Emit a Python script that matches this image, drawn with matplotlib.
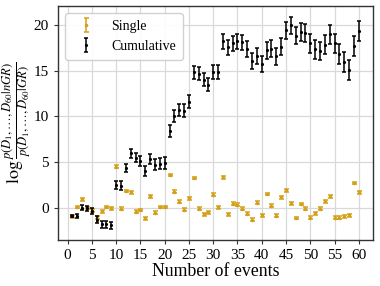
import numpy as np
import matplotlib
matplotlib.use("Agg")
import matplotlib.pyplot as plt

# number of events
n_events = list(range(1, 61))

# log Bayes factor of each single event
single = [-0.90, 0.10, 0.94, 0.00, -0.30, -1.05, -0.36, 0.10, -0.04, 4.50,
          -0.07, 1.85, 1.70, -0.43, -0.22, -1.12, 1.27, -0.54, 0.10, 0.10,
          3.60, 1.77, 0.69, -0.18, 1.05, 3.26, -0.07, -0.69, -0.50, 1.45,
          0.07, 3.33, -0.69, 0.47, 0.36, -0.10, -0.65, -1.27, 0.58, -0.80,
          1.52, 0.25, -0.83, 1.16, 1.92, 0.50, -1.09, 0.43, -0.10, -1.05,
          -0.58, -0.10, 0.72, 1.27, -1.05, -1.05, -0.90, -0.80, 2.72, 1.70]
single_err = [0.15, 0.15, 0.16, 0.15, 0.16, 0.15, 0.16, 0.15, 0.15, 0.15,
              0.15, 0.15, 0.16, 0.15, 0.15, 0.16, 0.15, 0.15, 0.16, 0.15,
              0.15, 0.16, 0.15, 0.15, 0.16, 0.15, 0.15, 0.15, 0.16, 0.15,
              0.15, 0.16, 0.15, 0.15, 0.15, 0.16, 0.15, 0.15, 0.16, 0.15,
              0.15, 0.16, 0.15, 0.15, 0.16, 0.15, 0.15, 0.15, 0.16, 0.15,
              0.15, 0.16, 0.15, 0.15, 0.16, 0.15, 0.15, 0.15, 0.16, 0.15]

# cumulative log Bayes factor
cumulative = [-0.90, -0.87, 0.04, -0.04, -0.33, -1.27, -1.78, -1.78, -1.92, 2.54,
              2.43, 4.35, 5.98, 5.50, 5.15, 4.02, 5.36, 4.70, 4.85, 4.93,
              8.42, 10.08, 10.73, 10.63, 11.60, 14.82, 14.67, 14.02, 13.48, 14.86,
              14.86, 18.19, 17.54, 18.01, 18.19, 18.08, 17.35, 16.05, 16.59, 15.72,
              17.21, 17.39, 16.56, 17.60, 19.41, 19.95, 18.83, 19.20, 19.12, 17.97,
              17.32, 17.14, 17.82, 18.98, 17.97, 16.81, 15.94, 15.04, 17.68, 19.34]
cumulative_err = [0.14, 0.20, 0.24, 0.28, 0.31, 0.34, 0.37, 0.40, 0.42, 0.44,
                  0.46, 0.48, 0.50, 0.52, 0.54, 0.56, 0.58, 0.59, 0.61, 0.63,
                  0.64, 0.66, 0.67, 0.69, 0.70, 0.71, 0.73, 0.74, 0.75, 0.77,
                  0.78, 0.79, 0.80, 0.82, 0.83, 0.84, 0.85, 0.86, 0.87, 0.89,
                  0.90, 0.91, 0.92, 0.93, 0.94, 0.95, 0.96, 0.97, 0.98, 0.99,
                  1.00, 1.01, 1.02, 1.03, 1.04, 1.05, 1.06, 1.07, 1.08, 1.08]

plt.rcParams['font.family'] = ['Liberation Serif', 'DejaVu Serif']
plt.rcParams['mathtext.fontset'] = 'stix'

fig = plt.figure(figsize=(3.8, 2.86), dpi=100)
ax = fig.add_axes([0.153, 0.161, 0.829, 0.818])

ax.errorbar(n_events, single, yerr=single_err, fmt='.', color='#d4a017',
            markersize=3, elinewidth=1.1, capsize=1.8, capthick=1.1, label='Single', zorder=3)
ax.errorbar(n_events, cumulative, yerr=cumulative_err, fmt='.', color='black',
            markersize=2.5, elinewidth=1.1, capsize=1.7, capthick=1.1, label='Cumulative', zorder=4)

ax.set_xticks(np.arange(0, 61, 5))
ax.set_yticks([0, 5, 10, 15, 20])
ax.grid(True, color='#d9d9d9', linewidth=0.9)
ax.set_axisbelow(True)
for s in ax.spines.values():
    s.set_color('#333333')
    s.set_linewidth(1.0)
ax.tick_params(labelsize=11, length=3, color='#333333')

ax.set_xlabel('Number of events', fontsize=12.8, labelpad=1)
ax.set_ylabel(r'$\log\frac{p(D_1,\ldots,D_{60}|nGR)}{p(D_1,\ldots,D_{60}|GR)}$',
              fontsize=13, labelpad=0)

ax.legend(loc='upper left', fontsize=10, frameon=True, fancybox=True,
          edgecolor='#cccccc', framealpha=0.9, handlelength=2, borderpad=0.5)

fig.savefig('out.png', dpi=100)
